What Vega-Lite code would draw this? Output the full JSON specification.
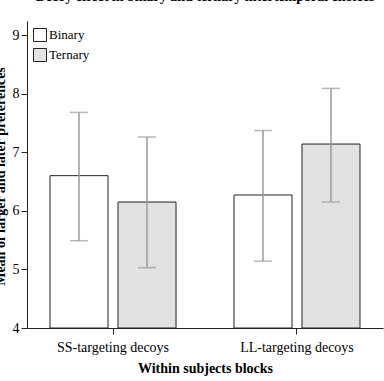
{
  "$schema": "https://vega.github.io/schema/vega-lite/v6.json",
  "width": 356,
  "height": 307,
  "autosize": {"type": "none"},
  "padding": {"left": 27, "top": 21, "right": 1, "bottom": 53},
  "background": "white",
  "title": {
    "text": "Decoy effect in binary and ternary intertemporal choices",
    "font": "Liberation Serif",
    "fontSize": 14,
    "fontWeight": "bold",
    "color": "black",
    "baseline": "alphabetic",
    "offset": 6,
    "anchor": "middle"
  },
  "data": {
    "values": [
      {"block": "SS-targeting decoys", "type": "Binary", "mean": 6.6, "lo": 5.49, "hi": 7.68},
      {"block": "SS-targeting decoys", "type": "Ternary", "mean": 6.15, "lo": 5.03, "hi": 7.26},
      {"block": "LL-targeting decoys", "type": "Binary", "mean": 6.27, "lo": 5.14, "hi": 7.37},
      {"block": "LL-targeting decoys", "type": "Ternary", "mean": 7.14, "lo": 6.15, "hi": 8.09}
    ]
  },
  "encoding": {
    "x": {
      "field": "block",
      "type": "nominal",
      "sort": ["SS-targeting decoys", "LL-targeting decoys"],
      "scale": {"paddingInner": 0.315, "paddingOuter": 0.125},
      "axis": {
        "title": "Within subjects blocks",
        "labelAngle": 0,
        "tickSize": 6,
        "labelPadding": 6,
        "titlePadding": 7
      }
    },
    "xOffset": {
      "field": "type",
      "type": "nominal",
      "sort": ["Binary", "Ternary"],
      "scale": {"paddingInner": 0.147, "paddingOuter": 0}
    }
  },
  "layer": [
    {
      "mark": {"type": "bar", "stroke": "#222222", "strokeWidth": 1},
      "encoding": {
        "y": {
          "field": "mean",
          "type": "quantitative",
          "scale": {"domain": [4, 9.24], "nice": false, "zero": false},
          "axis": {
            "title": "Mean of larger and later preferences",
            "values": [4, 5, 6, 7, 8, 9],
            "format": "d",
            "tickSize": 6,
            "labelPadding": 2,
            "titleX": -23,
            "titleY": 155,
            "titleAngle": 270,
            "titleAlign": "center",
            "titleBaseline": "alphabetic"
          }
        },
        "y2": {"datum": 4},
        "fill": {
          "field": "type",
          "type": "nominal",
          "scale": {"domain": ["Binary", "Ternary"], "range": ["#ffffff", "#e2e2e2"]},
          "legend": {
            "title": null,
            "orient": "none",
            "legendX": 6,
            "legendY": 7,
            "symbolType": "square",
            "symbolSize": 169,
            "symbolStrokeColor": "#222222",
            "symbolStrokeWidth": 1,
            "labelFont": "Liberation Serif",
            "labelFontSize": 13,
            "labelColor": "black",
            "labelOffset": 2,
            "rowPadding": 2
          }
        }
      }
    },
    {
      "mark": {"type": "rule", "color": "#9a9a9a", "strokeWidth": 1.5},
      "encoding": {
        "y": {"field": "lo", "type": "quantitative", "title": "Mean of larger and later preferences"},
        "y2": {"field": "hi"}
      }
    },
    {
      "mark": {"type": "tick", "color": "#9a9a9a", "size": 18, "thickness": 1.5},
      "encoding": {
        "y": {"field": "hi", "type": "quantitative", "title": "Mean of larger and later preferences"}
      }
    },
    {
      "mark": {"type": "tick", "color": "#9a9a9a", "size": 18, "thickness": 1.5},
      "encoding": {
        "y": {"field": "lo", "type": "quantitative", "title": "Mean of larger and later preferences"}
      }
    }
  ],
  "config": {
    "view": {"stroke": null},
    "axis": {
      "grid": false,
      "domainColor": "#222222",
      "tickColor": "#222222",
      "labelFont": "Liberation Serif",
      "labelFontSize": 14,
      "labelColor": "black",
      "titleFont": "Liberation Serif",
      "titleFontSize": 14,
      "titleFontWeight": "bold",
      "titleColor": "black"
    }
  }
}
